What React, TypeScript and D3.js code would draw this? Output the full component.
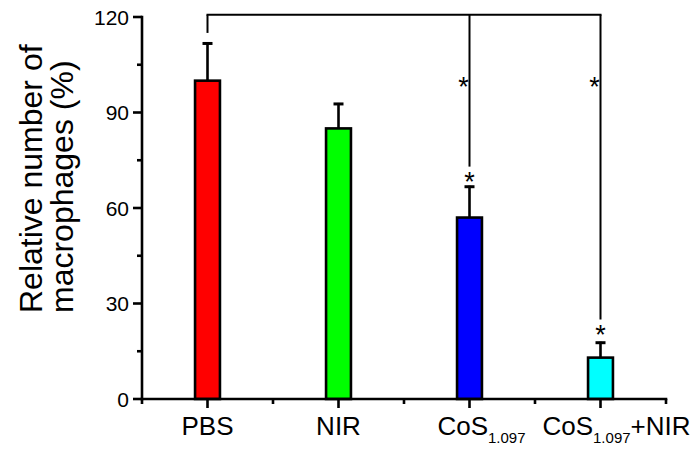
import React from "react";
import * as d3 from "d3";

const categories = ["PBS", "NIR", "CoS", "CoS+NIR"];
const values = [100, 85, 57, 13];
const errors = [12, 8, 10, 5];
const colors = ["#ff0000", "#00ff00", "#0000ff", "#00ffff"];
const yTicks = [0, 30, 60, 90, 120];
const yMinorTicks = [15, 45, 75, 105];
// significance bracket: from PBS (index 0) to CoS (2) and CoS+NIR (3)
const bracketLevel = 120.7;
const bracketTargets = [0, 2, 3];
const bracketDropEnds = [115, 73, 25];
const midStars = [{ idx: 2, v: 100 }, { idx: 3, v: 100 }];
const topStars = [{ idx: 2, v: 70.3 }, { idx: 3, v: 22.2 }];

const W = 697;
const H = 452;
const FONT = "'Liberation Sans', Arial, sans-serif";

export default function App() {
  const x = d3.scaleLinear().domain([0.5, 4.5]).range([142, 666]);
  const y = d3.scaleLinear().domain([0, 120]).range([399, 17]);
  const step = x(2) - x(1);
  const bw = step * 0.19;
  const xMinor = d3.range(0.5, 4.51, 1);

  const starSize = 27;
  const starDy = starSize * 0.57; // offset from glyph center to baseline for asterisk

  return (
    <svg
      width={W}
      height={H}
      style={{ position: "absolute", left: 0, top: 0, background: "#fff" }}
      fontFamily={FONT}
    >
      <rect x={0} y={0} width={W} height={H} fill="#fff" />
      {/* bars */}
      {values.map((v, i) => {
        const cx = x(i + 1);
        return (
          <g key={i}>
            <line x1={cx} x2={cx} y1={y(v)} y2={y(v + errors[i])} stroke="#000" strokeWidth={2.6} />
            <line x1={cx - 5} x2={cx + 5} y1={y(v + errors[i]) + 1} y2={y(v + errors[i]) + 1} stroke="#000" strokeWidth={3} />
            <rect x={cx - bw / 2} y={y(v)} width={bw} height={y(0) - y(v)} fill={colors[i]} stroke="#000" strokeWidth={2.6} />
          </g>
        );
      })}
      {/* y axis */}
      <line x1={x(0.5)} x2={x(0.5)} y1={y(0) + 1.3} y2={y(120) - 1.3} stroke="#000" strokeWidth={2.6} />
      {yTicks.map((t) => (
        <g key={t}>
          <line x1={x(0.5) - 9} x2={x(0.5)} y1={y(t)} y2={y(t)} stroke="#000" strokeWidth={2.6} />
          <text x={x(0.5) - 13} y={y(t) + 7.5} textAnchor="end" fontSize={21} fill="#000">
            {t}
          </text>
        </g>
      ))}
      {yMinorTicks.map((t) => (
        <line key={t} x1={x(0.5) - 5} x2={x(0.5)} y1={y(t)} y2={y(t)} stroke="#000" strokeWidth={2.6} />
      ))}
      {/* x axis */}
      <line x1={x(0.5) - 1.3} x2={x(4.5) + 1.3} y1={y(0)} y2={y(0)} stroke="#000" strokeWidth={2.6} />
      {categories.map((c, i) => (
        <line key={c} x1={x(i + 1)} x2={x(i + 1)} y1={y(0)} y2={y(0) + 9} stroke="#000" strokeWidth={2.6} />
      ))}
      {xMinor.map((t) => (
        <line key={t} x1={x(t)} x2={x(t)} y1={y(0)} y2={y(0) + 5} stroke="#000" strokeWidth={2.6} />
      ))}
      {/* x labels */}
      <text x={x(1)} y={435} textAnchor="middle" fontSize={26} fill="#000">PBS</text>
      <text x={x(2)} y={435} textAnchor="middle" fontSize={26} fill="#000">NIR</text>
      <text x={x(3) + 12} y={435} textAnchor="middle" fontSize={26} fill="#000">
        CoS<tspan fontSize={15} dy={8}>1.097</tspan>
      </text>
      <text x={x(4) + 16} y={435} textAnchor="middle" fontSize={26} fill="#000">
        CoS<tspan fontSize={15} dy={8}>1.097</tspan>
        <tspan dy={-8}>+NIR</tspan>
      </text>
      {/* y label */}
      <text transform="translate(42,313) rotate(-90)" fontSize={32} fill="#000">Relative number of</text>
      <text transform="translate(73,313) rotate(-90)" fontSize={32} fill="#000">macrophages (%)</text>
      {/* significance bracket */}
      <line
        x1={x(bracketTargets[0] + 1) - 1}
        x2={x(bracketTargets[bracketTargets.length - 1] + 1) + 1}
        y1={y(bracketLevel)}
        y2={y(bracketLevel)}
        stroke="#000"
        strokeWidth={2}
      />
      {bracketTargets.map((idx, k) => (
        <line
          key={idx}
          x1={x(idx + 1)}
          x2={x(idx + 1)}
          y1={y(bracketLevel)}
          y2={y(bracketDropEnds[k])}
          stroke="#000"
          strokeWidth={2}
        />
      ))}
      {midStars.map((s, k) => (
        <text key={"m" + k} x={x(s.idx + 1) - 6} y={y(s.v) + starDy} textAnchor="middle" fontSize={starSize} fill="#000">*</text>
      ))}
      {topStars.map((s, k) => (
        <text key={"t" + k} x={x(s.idx + 1)} y={y(s.v) + starDy} textAnchor="middle" fontSize={starSize} fill="#000">*</text>
      ))}
    </svg>
  );
}
